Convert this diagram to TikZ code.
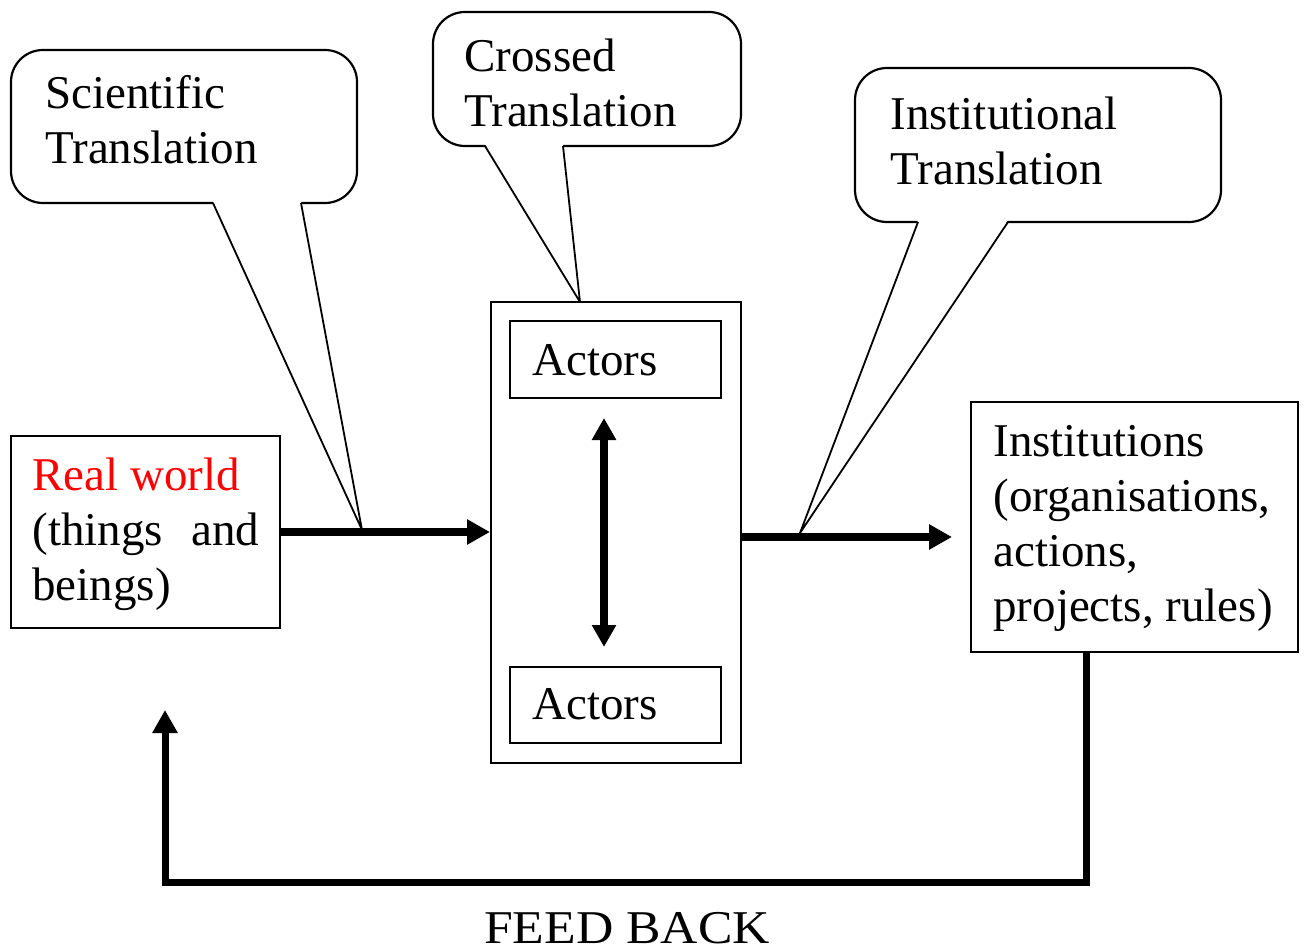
\documentclass[tikz,border=0pt]{standalone}
\usepackage{fontspec}
\setmainfont{Liberation Serif}
\newfontfamily\fbfont{Liberation Serif}[FakeStretch=1.1]
\usetikzlibrary{arrows.meta,fit,calc}
\begin{document}
\begin{tikzpicture}[x=0.5pt,y=-0.5pt,
  txt/.style={inner sep=0pt, anchor=base west, align=left, font=\fontsize{23.5}{27.5}\selectfont},
  bubble/.style={draw, line width=1.1pt, rounded corners=16pt, inner sep=0pt},
  box/.style={draw, line width=1pt, inner sep=0pt},
  tail/.style={line width=0.9pt, line join=round},
  arr/.style={line width=3.7pt, -{Triangle[length=11.5pt,width=12pt]}},
  dblarr/.style={line width=3.7pt, {Triangle[length=11pt,width=11.5pt]}-{Triangle[length=11pt,width=11.5pt]}},
]
\useasboundingbox (0,0) rectangle (1306,952);

% callout bubbles
\node[bubble, fit={(11,50)(357,203)}] (sciB) {};
\node[bubble, fit={(433,12)(741,146)}] (crB) {};
\node[bubble, fit={(855,68)(1221,222)}] (insB) {};

% tails
\coordinate (sciL) at (213,203); \coordinate (sciR) at (301,203); \coordinate (sciT) at (362,530);
\coordinate (crL) at (485,146); \coordinate (crR) at (563,146); \coordinate (crT) at (580,302);
\coordinate (insL) at (918,222); \coordinate (insR) at (1008,222); \coordinate (insT) at (800,533);
\foreach \t in {sci,cr,ins}{
  \fill[white] ($(\t L)+(0,-1.8)$) -- (\t T) -- ($(\t R)+(0,-1.8)$) -- cycle;
  \draw[tail] (\t L) -- (\t T) -- (\t R);
}

% boxes
\node[box, fit={(11,436)(280,628)}] (rw) {};
\node[box, fit={(491,302)(741,763)}] (mid) {};
\node[box, fit={(510,321)(721,398)}] (act1) {};
\node[box, fit={(510,667)(721,743)}] (act2) {};
\node[box, fit={(971,402)(1298,652)}] (inst) {};

% texts (base anchor = baseline of the last line)
\node[txt] (sciTx) at (45,164) {Scientific\\Translation};
\node[txt] (crTx) at (464,127) {Crossed\\Translation};
\node[txt] (insTx) at (890,185) {Institutional\\Translation};
\node[txt] (rwTx) at (32,600) {\textcolor{red}{Real world}\\\makebox[113.5pt][s]{(things and}\\beings)};
\node[txt] (a1Tx) at (532,375) {Actors};
\node[txt] (a2Tx) at (532,719) {Actors};
\node[txt] (instTx) at (993,621) {Institutions\\(organisations,\\actions,\\projects, rules)};
\node[inner sep=0pt, anchor=base, font=\fbfont\fontsize{23.5}{27.5}\selectfont] (fb) at (627,943) {FEED BACK};

% arrows
\draw[arr] (rw.east) -- (rw.east -| mid.west);
\coordinate (a2end) at (952,537);
\draw[arr] (a2end -| mid.east) -- (a2end);
\coordinate (d1) at (604,418); \coordinate (d2) at (604,647);
\draw[dblarr] (d1) -- (d2);
\coordinate (fbS) at (1086,652); \coordinate (fbC) at (165,882); \coordinate (fbE) at (165,710);
\draw[line width=3.5pt, line join=miter, -{Triangle[length=11.5pt,width=12pt]}] (fbS) |- (fbC) -- (fbE);
\end{tikzpicture}
\end{document}
